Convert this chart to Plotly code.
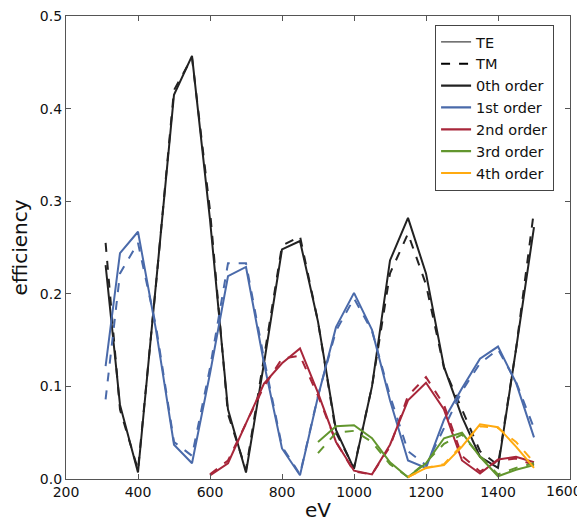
import plotly.graph_objects as go

ev = [310, 350, 400, 450, 500, 550, 600, 650, 700, 750, 800, 850, 900, 950,
      1000, 1050, 1100, 1150, 1200, 1250, 1300, 1350, 1400, 1450, 1500]

o0_te = [0.231, 0.080, 0.007, 0.21, 0.415, 0.457, 0.280, 0.075, 0.007, 0.125, 0.248, 0.257, 0.17, 0.053,
         0.011, 0.10, 0.236, 0.282, 0.222, 0.121, 0.067, 0.024, 0.012, 0.14, 0.272]
o0_tm = [0.255, 0.075, 0.010, 0.21, 0.420, 0.455, 0.290, 0.070, 0.010, 0.130, 0.252, 0.262, 0.17, 0.050,
         0.012, 0.10, 0.222, 0.265, 0.210, 0.120, 0.075, 0.030, 0.015, 0.14, 0.290]

o1_te = [0.122, 0.244, 0.267, 0.161, 0.037, 0.017, 0.114, 0.219, 0.229, 0.125, 0.033, 0.004, 0.089, 0.164,
         0.201, 0.161, 0.085, 0.020, 0.012, 0.064, 0.098, 0.130, 0.143, 0.104, 0.045]
o1_tm = [0.086, 0.222, 0.255, 0.165, 0.040, 0.025, 0.120, 0.233, 0.233, 0.130, 0.035, 0.005, 0.090, 0.160,
         0.195, 0.160, 0.090, 0.030, 0.015, 0.055, 0.095, 0.125, 0.140, 0.105, 0.055]

ev2 = ev[6:]
o2_te = [0.004, 0.017, 0.060, 0.103, 0.125, 0.141, 0.093, 0.040, 0.009, 0.005, 0.037, 0.085, 0.104,
         0.075, 0.020, 0.006, 0.021, 0.024, 0.018]
o2_tm = [0.005, 0.020, 0.060, 0.100, 0.130, 0.133, 0.090, 0.040, 0.008, 0.005, 0.035, 0.090, 0.110,
         0.080, 0.025, 0.008, 0.020, 0.022, 0.015]

ev3 = ev[12:]
o3_te = [0.040, 0.057, 0.058, 0.044, 0.018, 0.002, 0.017, 0.044, 0.050, 0.024, 0.003, 0.010, 0.015]
o3_tm = [0.028, 0.050, 0.052, 0.040, 0.016, 0.002, 0.018, 0.038, 0.048, 0.025, 0.005, 0.012, 0.017]

ev4 = ev[17:]
o4_te = [0.002, 0.012, 0.015, 0.035, 0.059, 0.056, 0.035, 0.012]
o4_tm = [0.002, 0.012, 0.016, 0.036, 0.057, 0.055, 0.040, 0.018]

x_ticks = [200, 400, 600, 800, 1000, 1200, 1400, 1600]
y_ticks = [0.0, 0.1, 0.2, 0.3, 0.4, 0.5]

order_names = ["0th order", "1st order", "2nd order", "3rd order", "4th order"]
colors = ["#222222", "#4a6aaa", "#a8263a", "#62962e", "#ffaa10"]
series = [(ev, o0_te, o0_tm), (ev, o1_te, o1_tm), (ev2, o2_te, o2_tm),
          (ev3, o3_te, o3_tm), (ev4, o4_te, o4_tm)]

fig = go.Figure()

# legend-only entries
fig.add_trace(go.Scatter(x=[None], y=[None], mode="lines", name="TE",
                         line=dict(color="#444444", width=1.2)))
fig.add_trace(go.Scatter(x=[None], y=[None], mode="lines", name="TM",
                         line=dict(color="#000000", width=2.2, dash="dash")))
for name, c in zip(order_names, colors):
    fig.add_trace(go.Scatter(x=[None], y=[None], mode="lines", name=name,
                             line=dict(color=c, width=2.2)))

for (xs, te, tm), c in zip(series, colors):
    fig.add_trace(go.Scatter(x=xs, y=tm, mode="lines", showlegend=False,
                             line=dict(color=c, width=2, dash="dash")))
    fig.add_trace(go.Scatter(x=xs, y=te, mode="lines", showlegend=False,
                             line=dict(color=c, width=2)))

axis_common = dict(showline=True, linecolor="#555555", linewidth=1.2, mirror="ticks",
                   ticks="inside", ticklen=5, tickcolor="#555555", showgrid=False,
                   zeroline=False, automargin=False, ticklabeloverflow="allow",
                   tickfont=dict(size=14, color="#111111"))

# the last x tick label would run past the page edge; draw it as a right-aligned text
x_labels = [str(v) for v in x_ticks[:-1]] + [""]

# page has an 8px body margin, so the figure is drawn 8px smaller and offset
fig.update_layout(
    width=577, height=514,
    margin=dict(l=58, r=15, t=8, b=43),
    paper_bgcolor="white", plot_bgcolor="white",
    font=dict(family="DejaVu Sans", color="#111111"),
    xaxis=dict(range=[200, 1600], tickvals=x_ticks, ticktext=x_labels,
               title=dict(text="eV", font=dict(size=20), standoff=4), **axis_common),
    yaxis=dict(range=[0, 0.5], tickvals=y_ticks, tickformat=".1f",
               title=dict(text="efficiency", font=dict(size=20), standoff=6), **axis_common),
    legend=dict(x=0.968, y=0.981, xanchor="right", yanchor="top",
                bordercolor="#444444", borderwidth=1.2, bgcolor="white",
                font=dict(size=14.5), tracegroupgap=0),
    annotations=[dict(text=str(x_ticks[-1]), xref="paper", yref="paper", x=1, y=0,
                      xanchor="right", yanchor="top", xshift=14, yshift=-2,
                      showarrow=False, font=dict(size=14, color="#111111"))],
)

fig.write_html("out.html")
